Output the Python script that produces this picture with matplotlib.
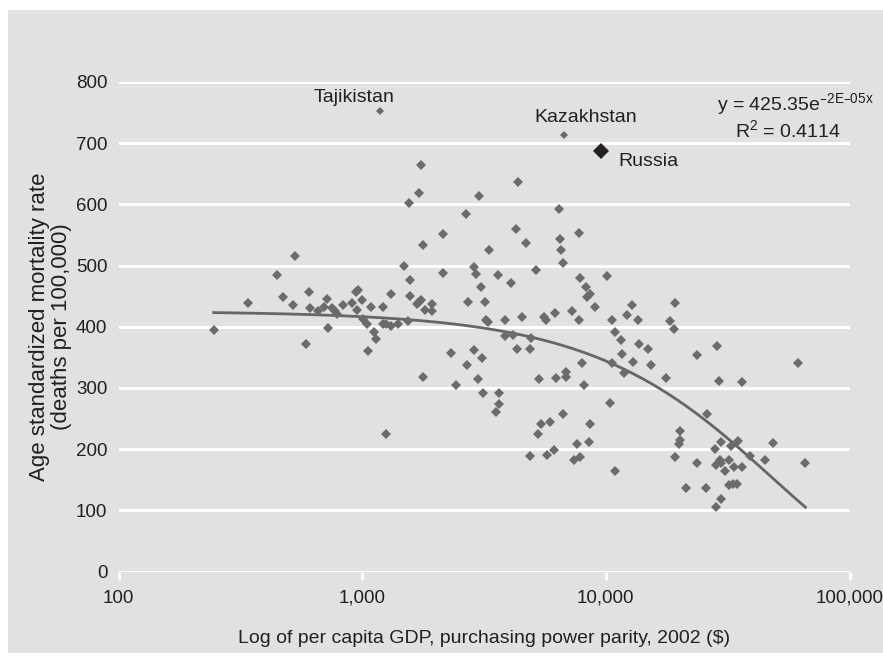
import matplotlib
matplotlib.use("Agg")
import matplotlib.pyplot as plt
import numpy as np
from matplotlib.patches import Rectangle
from matplotlib.ticker import FixedLocator, NullLocator

# ---------------- data ----------------
gdp = [246, 341, 449, 473, 529, 522, 590, 604, 609, 661, 698, 718, 724, 750, 774, 791,
       837, 912, 944, 965, 950, 996, 1006, 1050, 1060, 1088, 1122, 1135, 1213, 1222,
       1257, 1311, 1308, 1397, 1253, 1491, 1539, 1573, 1573, 1558, 1716, 1740, 1774,
       1676, 1713, 1745, 1816, 1774, 1936, 1940, 2138, 2138, 2311, 2430, 2663, 2688,
       2721, 2866, 2866, 2935, 2997, 3028, 3068, 3097, 3135, 3204, 3225, 3277, 3303,
       3596, 3535, 3630, 3654, 3860, 3860, 4165, 4074, 4295, 4353, 4303, 4541, 4695,
       4935, 4903, 4903, 5184, 5289, 5399, 5339, 5597, 5661, 5758, 5906, 6105, 6174,
       6238, 6448, 6509, 6553, 6678, 6659, 6882, 6870, 7270, 7410, 7586, 7747, 7768,
       7827, 7842, 8014, 8169, 8277, 8404, 8646, 8565, 8646, 9039, 10076, 10416,
       10644, 10644, 10867, 10888, 11588, 11633, 11866, 12266, 12797, 12970, 13535,
       13675, 14946, 15274, 17633, 18365, 18980, 19254, 19254, 20243, 20243, 20053,
       21404, 23636, 23636, 25757, 25977, 28098, 28228, 28417, 28714, 29044, 29320,
       29680, 29680, 29680, 30737, 32076, 32010, 32630, 33406, 33536, 34690, 35020,
       36160, 36160, 39120, 44950, 48530, 61750, 65920]
mortality = [394, 439, 485, 449, 515, 436, 371, 456, 430, 426, 432, 445, 398, 430, 425, 421,
             436, 438, 457, 460, 427, 443, 413, 405, 360, 432, 392, 380, 432, 405,
             404, 402, 453, 405, 224, 500, 409, 477, 450, 602, 619, 664, 534,
             437, 441, 444, 427, 318, 437, 426, 552, 488, 357, 305, 585, 337,
             441, 498, 362, 487, 315, 613, 465, 349, 292, 441, 411, 408, 526,
             485, 260, 273, 292, 411, 385, 386, 471, 560, 637, 364, 416, 537,
             382, 364, 188, 492, 224, 241, 314, 416, 411, 190, 245, 199, 422,
             316, 592, 543, 526, 504, 258, 326, 318, 426, 183, 209, 554, 411,
             187, 479, 341, 305, 465, 449, 454, 212, 241, 433, 483, 275,
             411, 340, 392, 164, 379, 356, 324, 420, 436, 342, 411,
             371, 363, 337, 316, 409, 396, 439, 187, 230, 215, 208,
             137, 354, 177, 137, 258, 201, 174, 106, 369, 312, 182,
             177, 212, 118, 164, 182, 141, 205, 143, 171, 143, 214,
             171, 309, 188, 182, 210, 341, 178]

labelled_names = ["Tajikistan", "Kazakhstan"]
labelled_gdp = [1188, 6741]
labelled_mortality = [753, 713]

russia_gdp = 9566
russia_mortality = 688

fit_a = 425.35
fit_b = 2.12e-5        # displayed rounded as 2E-05
fit_r2 = 0.4114

x_ticks = [100, 1000, 10000, 100000]
x_ticklabels = ["100", "1,000", "10,000", "100,000"]
y_ticks = [0, 100, 200, 300, 400, 500, 600, 700, 800]

# ---------------- style ----------------
plt.rcParams['font.family'] = ['Liberation Sans', 'DejaVu Sans']
bg = '#e0e1e3'
txt = '#231f20'
mark = '#6a6b6d'

fig = plt.figure(figsize=(8.83, 6.59), dpi=100)
fig.patch.set_facecolor('white')
bgrect = Rectangle((8/883, 6/659), 1 - 8/883, (653-10)/659,
                   transform=fig.transFigure, facecolor=bg,
                   edgecolor='none', zorder=-10)
fig.patches.append(bgrect)

ax = fig.add_axes([118.5/883, 87.5/659, 731/883, 489.5/659])
ax.set_zorder(1)
ax.set_facecolor(bg)
ax.set_xscale('log')
ax.set_xlim(100, 100000)
ax.set_ylim(0, 800)
for s in ax.spines.values():
    s.set_visible(False)

ax.xaxis.set_major_locator(FixedLocator(x_ticks))
ax.xaxis.set_minor_locator(NullLocator())
ax.set_xticklabels(x_ticklabels)
ax.set_yticks(y_ticks)
ax.yaxis.grid(True, color='white', linewidth=2.2)
ax.set_axisbelow(True)
ax.tick_params(axis='x', direction='out', length=6, width=2, color='white',
               labelsize=13.5, labelcolor=txt, pad=7)
ax.tick_params(axis='y', length=0, labelsize=13.5, labelcolor=txt, pad=8)

ax.plot(gdp, mortality, linestyle='none', marker='D', markersize=4.8,
        markerfacecolor=mark, markeredgewidth=0, zorder=3)
ax.plot(labelled_gdp, labelled_mortality, linestyle='none', marker='D', markersize=3.8,
        markerfacecolor=mark, markeredgewidth=0, zorder=3)
ax.plot([russia_gdp], [russia_mortality], linestyle='none', marker='D', markersize=8,
        markerfacecolor='#231f20', markeredgewidth=0, zorder=4)

xs = np.logspace(np.log10(min(gdp)), np.log10(max(gdp)), 400)
ax.plot(xs, fit_a * np.exp(-fit_b * xs), color='#666666', linewidth=2, zorder=2)

offsets = {"Tajikistan": (-26, 13), "Kazakhstan": (22, 18)}
for n, gx, gy in zip(labelled_names, labelled_gdp, labelled_mortality):
    ax.annotate(n, (gx, gy), xytext=offsets[n], textcoords='offset pixels',
                ha='center', va='center', fontsize=14, color=txt)
ax.annotate("Russia", (russia_gdp, russia_mortality), xytext=(47, -11),
            textcoords='offset pixels', ha='center', va='center', fontsize=14, color=txt)

ax.text(0.9254, 0.954, 'y = 425.35e$^{\\mathregular{\u20132E\u201305x}}$', transform=ax.transAxes,
        ha='center', va='center', fontsize=14, color=txt)
ax.text(0.916, 0.90, r'R$^{\mathregular{2}}$ = ' + f'{fit_r2:.4f}', transform=ax.transAxes,
        ha='center', va='center', fontsize=14, color=txt)

ax.set_xlabel('Log of per capita GDP, purchasing power parity, 2002 ($)', fontsize=14,
              color=txt, labelpad=17)
ax.set_ylabel('Age standardized mortality rate\n(deaths per 100,000)', fontsize=16,
              color=txt, labelpad=3, linespacing=1.05)

fig.savefig('out.png', dpi=100, facecolor='white')
